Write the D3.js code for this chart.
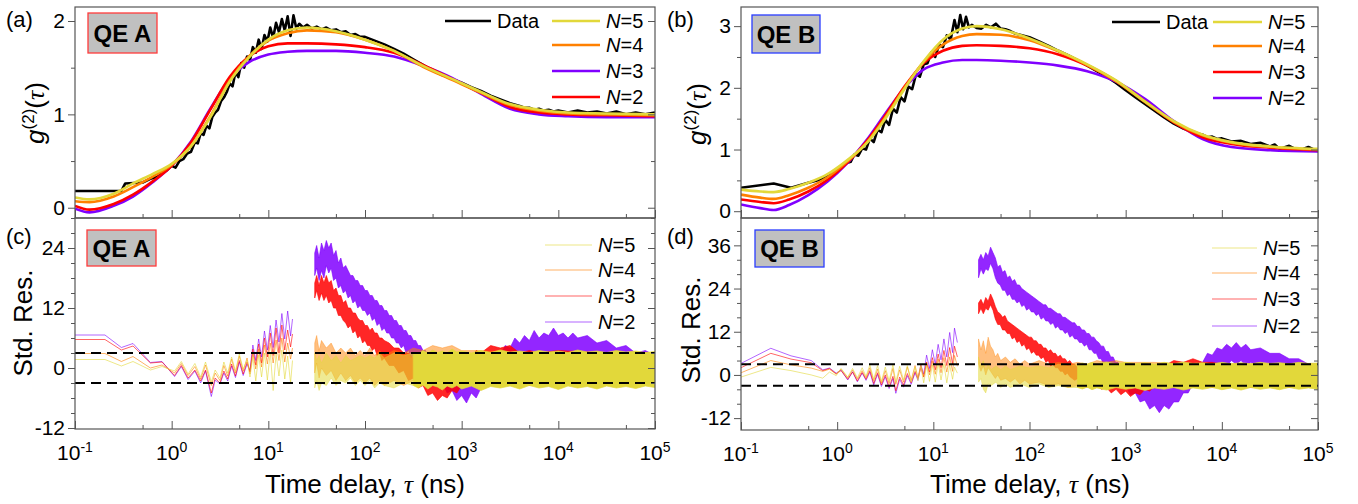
<!DOCTYPE html>
<html lang="en">
<head>
<meta charset="utf-8"/>
<script type="text/javascript" src="https://cdnjs.cloudflare.com/ajax/libs/d3/7.8.5/d3.min.js"></script>
<style>
  body { margin: 0; background: #fff; }
</style>
</head>
<body>
<svg id="chart" width="1358" height="504"></svg>
<script type="text/javascript">

// x values are stored as log10(tau / ns)
// tick labels
var xMajor = [0.1, 1, 10, 100, 1000, 10000, 100000];
var xExpLabels = ["-1", "0", "1", "2", "3", "4", "5"];
var xMinor = [0.5, 5, 50, 500, 5000, 50000];

// ---------- panel (a): g2 of QE A ----------
var uFitA = [-1, -0.85, -0.6, -0.4, -0.2, 0, 0.2, 0.4, 0.6, 0.8, 1.0, 1.2, 1.4, 1.7, 2.0, 2.3, 2.6, 2.9, 3.2, 3.5, 3.8, 4.1, 4.5, 5];
var fitA_N5 = [0.11,0.09,0.15,0.26,0.36,0.47,0.66,0.97,1.35,1.61,1.80,1.90,1.93,1.89,1.80,1.68,1.52,1.38,1.24,1.11,1.05,1.02,1.01,1.00];
var fitA_N4 = [0.07,0.06,0.12,0.22,0.33,0.46,0.66,0.98,1.36,1.62,1.79,1.87,1.90,1.88,1.80,1.68,1.51,1.37,1.23,1.10,1.04,1.01,1.00,0.99];
var fitA_red = [0.02,-0.02,0.04,0.14,0.28,0.45,0.70,1.05,1.40,1.62,1.73,1.76,1.76,1.75,1.72,1.66,1.53,1.38,1.23,1.08,1.02,1.00,0.99,0.98];
var fitA_purple = [-0.01,-0.05,0.02,0.12,0.27,0.45,0.71,1.06,1.38,1.56,1.64,1.67,1.68,1.68,1.66,1.62,1.52,1.39,1.22,1.06,1.00,0.98,0.97,0.97];
var dataA = [[-1,0.18],[-0.52,0.18],[-0.48,0.26],[-0.3,0.27],[-0.22,0.31],[-0.15,0.33],[-0.1,0.37],[-0.05,0.40],[0,0.45],[0.04,0.43],[0.08,0.50],[0.12,0.52],[0.16,0.58],[0.2,0.60],[0.24,0.70],[0.27,0.69],[0.3,0.80],[0.33,0.78],[0.36,0.88],[0.39,0.85],[0.42,0.97],[0.45,1.02],[0.48,1.05],[0.51,1.14],[0.54,1.18],[0.57,1.24],[0.6,1.33],[0.63,1.30],[0.66,1.45],[0.69,1.40],[0.72,1.55],[0.75,1.50],[0.78,1.62],[0.81,1.58],[0.84,1.72],[0.87,1.66],[0.9,1.80],[0.93,1.70],[0.96,1.85],[0.99,1.78],[1.02,1.93],[1.05,1.82],[1.08,1.98],[1.11,1.88],[1.14,2.02],[1.17,1.90],[1.2,2.05],[1.23,1.84],[1.26,2.06],[1.29,1.92],[1.32,1.97],[1.36,1.93],[1.4,1.96],[1.45,1.92],[1.5,1.94],[1.55,1.91],[1.6,1.93],[1.65,1.90],[1.7,1.91],[1.75,1.88],[1.8,1.89],[1.85,1.85],[1.9,1.86],[1.95,1.83],[2.0,1.83],[2.1,1.79],[2.2,1.75],[2.3,1.70],[2.4,1.65],[2.5,1.59],[2.6,1.53],[2.7,1.47],[2.8,1.42],[2.9,1.38],[3.0,1.34],[3.1,1.29],[3.2,1.25],[3.3,1.20],[3.4,1.16],[3.5,1.12],[3.6,1.09],[3.65,1.07],[3.7,1.07],[3.75,1.05],[3.8,1.06],[3.85,1.04],[3.9,1.05],[3.95,1.03],[4.0,1.04],[4.1,1.02],[4.2,1.04],[4.3,1.02],[4.4,1.03],[4.5,1.01],[4.6,1.03],[4.7,1.00],[4.8,1.02],[4.9,1.00],[5.0,1.02]];

// ---------- panel (b): g2 of QE B ----------
var uFitB = [-1, -0.8, -0.66, -0.5, -0.3, -0.1, 0.1, 0.3, 0.5, 0.7, 0.9, 1.1, 1.3, 1.45, 1.7, 2.0, 2.3, 2.6, 2.9, 3.2, 3.5, 3.8, 4.1, 4.5, 5];
var fitB_N5 = [0.35,0.32,0.31,0.36,0.46,0.60,0.82,1.09,1.50,1.98,2.43,2.78,2.96,3.00,2.95,2.80,2.60,2.38,2.12,1.78,1.46,1.24,1.12,1.05,1.01];
var fitB_N4 = [0.27,0.22,0.20,0.26,0.38,0.55,0.80,1.10,1.52,2.00,2.42,2.70,2.84,2.87,2.86,2.77,2.59,2.37,2.11,1.77,1.45,1.23,1.11,1.04,1.00];
var fitB_N3 = [0.19,0.15,0.13,0.19,0.32,0.51,0.78,1.12,1.55,2.02,2.40,2.60,2.68,2.69,2.68,2.64,2.54,2.36,2.11,1.78,1.44,1.20,1.09,1.03,0.99];
var fitB_N2 = [0.11,0.05,0.02,0.10,0.26,0.48,0.77,1.14,1.58,2.00,2.30,2.41,2.45,2.45,2.44,2.41,2.36,2.27,2.10,1.82,1.46,1.17,1.04,0.99,0.97];
var dataB = [[-1,0.38],[-0.66,0.45],[-0.48,0.38],[-0.3,0.46],[-0.2,0.50],[-0.1,0.58],[0,0.66],[0.05,0.72],[0.1,0.78],[0.14,0.80],[0.18,0.92],[0.22,0.90],[0.26,1.02],[0.3,1.00],[0.34,1.18],[0.38,1.12],[0.42,1.32],[0.46,1.28],[0.5,1.48],[0.54,1.40],[0.58,1.66],[0.62,1.60],[0.66,1.85],[0.7,1.78],[0.74,2.02],[0.78,1.98],[0.82,2.22],[0.86,2.18],[0.9,2.38],[0.94,2.40],[0.98,2.58],[1.02,2.50],[1.06,2.70],[1.1,2.66],[1.14,2.85],[1.18,2.78],[1.22,3.10],[1.25,2.90],[1.28,3.18],[1.31,2.95],[1.34,3.15],[1.37,2.98],[1.4,3.02],[1.45,2.97],[1.5,2.96],[1.55,3.02],[1.6,2.98],[1.65,3.04],[1.7,2.96],[1.75,2.95],[1.8,2.92],[1.85,2.88],[1.9,2.86],[2.0,2.82],[2.1,2.75],[2.2,2.68],[2.3,2.60],[2.4,2.53],[2.5,2.45],[2.6,2.36],[2.7,2.27],[2.8,2.18],[2.9,2.08],[3.0,1.96],[3.1,1.85],[3.2,1.74],[3.3,1.63],[3.4,1.52],[3.5,1.42],[3.6,1.34],[3.7,1.28],[3.8,1.24],[3.85,1.20],[3.9,1.21],[3.95,1.17],[4.0,1.18],[4.1,1.13],[4.2,1.14],[4.3,1.09],[4.4,1.11],[4.5,1.05],[4.55,1.08],[4.6,1.01],[4.7,1.06],[4.8,0.98],[4.9,1.04],[5.0,0.97]];

// ---------- panel (c): standardized residuals, QE A ----------
// sparse part = [u, value]; dense part = [u, low, high]
var resC_N2_line = [[-1,6.6],[-0.69,6.6],[-0.52,4.1],[-0.4,4.9],[-0.22,1.1],[-0.1,1.3],[0.03,-1.7],[0.1,0.3],[0.17,-2.3],[0.24,-0.6],[0.3,-3.0],[0.35,-0.6],[0.41,-5.7],[0.45,-2.4],[0.5,-3.2],[0.54,-1.0],[0.58,-2.6],[0.62,0.4],[0.66,-1.9],[0.7,1.2],[0.74,-1.5],[0.78,0.8],[0.81,-0.5],[0.84,4.6],[0.87,1.5],[0.9,5.8],[0.93,2.2],[0.96,7.4],[0.99,3.6],[1.02,8.5],[1.05,4.1],[1.08,9.6],[1.11,5.2],[1.14,10.9],[1.17,5.8],[1.2,11.4],[1.23,6.4],[1.25,9.8]];
var resC_N3_line = [[-1,5.7],[-0.69,5.7],[-0.52,3.6],[-0.4,4.4],[-0.22,1.0],[-0.1,1.2],[0.03,-1.5],[0.1,0.5],[0.17,-2.0],[0.24,-0.4],[0.3,-2.6],[0.35,-0.4],[0.41,-5.0],[0.45,-2.0],[0.5,-3.0],[0.54,-0.6],[0.58,-2.2],[0.62,0.8],[0.66,-1.6],[0.7,1.5],[0.74,-1.2],[0.78,1.2],[0.81,-0.8],[0.84,3.8],[0.87,0.6],[0.9,4.8],[0.93,1.0],[0.96,6.0],[0.99,2.2],[1.02,7.0],[1.05,2.5],[1.08,8.0],[1.11,3.0],[1.14,8.6],[1.17,3.6],[1.2,7.6],[1.23,4.2],[1.25,6.8]];
var resC_N4_line = [[-1,2.9],[-0.69,2.9],[-0.52,1.3],[-0.4,2.3],[-0.22,0.0],[-0.1,0.6],[0.03,-1.0],[0.1,0.9],[0.17,-1.5],[0.24,0.3],[0.3,-2.2],[0.35,0.6],[0.41,-3.5],[0.45,-1.0],[0.5,-2.5],[0.54,0.5],[0.58,-1.6],[0.62,1.8],[0.66,-1.0],[0.7,2.4],[0.74,-0.6],[0.78,2.0],[0.81,-1.2],[0.84,3.0],[0.87,-0.2],[0.9,3.8],[0.93,0.2],[0.96,4.6],[0.99,0.8],[1.02,5.0],[1.05,1.0],[1.08,5.6],[1.11,1.5],[1.14,6.0],[1.17,1.2],[1.2,5.0],[1.23,1.8],[1.25,4.0]];
var resC_N5_line = [[-1,1.7],[-0.69,1.7],[-0.52,0.4],[-0.4,1.3],[-0.22,-0.4],[-0.1,0.3],[0.03,-0.6],[0.1,1.3],[0.17,-1.2],[0.24,0.9],[0.3,-1.8],[0.35,1.2],[0.41,-2.8],[0.45,-0.4],[0.5,-2.0],[0.54,1.2],[0.58,-1.0],[0.62,2.2],[0.66,-0.6],[0.7,2.8],[0.74,-0.2],[0.78,1.6],[0.81,-1.8],[0.84,2.2],[0.87,-2.6],[0.9,2.6],[0.93,-1.8],[0.96,3.0],[0.99,-2.4],[1.02,3.2],[1.05,-4.5],[1.08,2.8],[1.11,-1.6],[1.14,3.6],[1.17,-2.2],[1.2,2.4],[1.23,-3.0],[1.25,1.5]];
var resC_N2_band = [[1.48,18.5,23],[1.5,20,24.5],[1.525,17.5,22],[1.55,19.5,25],[1.575,18,23.5],[1.6,20.5,25.5],[1.625,19,24],[1.65,20,25],[1.675,17.5,22.5],[1.7,18,23.5],[1.725,16,21],[1.75,16.5,22],[1.775,15,20],[1.8,15.5,20.5],[1.825,14,19.5],[1.85,14.5,18.5],[1.875,13,18.5],[1.9,13.5,17.5],[1.925,12,17.5],[1.95,12.5,16.5],[1.975,11.5,16.5],[2.0,11.5,15.5],[2.025,10.5,15.5],[2.05,11,14.5],[2.075,9.5,14.5],[2.1,10,13.5],[2.125,8.5,13.5],[2.15,9,12.5],[2.175,7.5,12.5],[2.2,8,11.5],[2.225,7,11.5],[2.25,7,10.5],[2.275,6,10.5],[2.3,6,9.5],[2.325,5,9.5],[2.35,5,8.5],[2.375,4,8.5],[2.4,4.5,7.5],[2.425,3,7.5],[2.45,3.5,6.5],[2.475,2,6.5],[2.5,2.5,5.5],[2.525,1,5.5],[2.55,1.5,4.5],[2.575,0,4.5],[2.6,0.5,3.5],[2.625,-1,3.5],[2.65,-0.5,2.5],[2.675,-2,2.5],[2.7,-1.5,1.5],[2.75,-3.5,1],[2.8,-3,0],[2.85,-5,0],[2.9,-4.5,-1],[2.95,-6.5,-0.5],[3.0,-5.5,-1.5],[3.05,-7,-1],[3.1,-5,-1.5],[3.15,-6,-0.5],[3.2,-4,-0.5],[3.25,-4,1],[3.3,-2,1.5],[3.35,-2.5,3],[3.4,-0.5,2.5],[3.45,-0.5,4.5],[3.5,1,4],[3.55,0.5,6],[3.6,2,5],[3.65,1.5,6.5],[3.7,2.5,5.5],[3.75,2,7.5],[3.8,3,6],[3.85,1.5,7],[3.9,3,6.5],[3.95,2,8],[4.0,3,6.5],[4.05,1.5,7],[4.1,2.5,6],[4.15,1.5,7],[4.2,2.5,6],[4.3,1.5,6.5],[4.4,1.5,5],[4.5,0,5.5],[4.6,0.5,4],[4.7,-1,4.5],[4.8,-0.5,3],[4.9,-1.5,3.5],[5.0,-1.5,2.5]];
var resC_N3_band = [[1.48,14,17],[1.5,15.5,18.5],[1.525,13.5,16.5],[1.55,15,18.5],[1.575,13.5,17],[1.6,14.5,18.5],[1.625,13,17],[1.65,13.5,17.5],[1.675,12,15.5],[1.7,12,16],[1.725,10.5,14.5],[1.75,10.5,14.5],[1.775,9.5,13],[1.8,9,13.5],[1.825,8,12],[1.85,8.5,12],[1.875,7,11],[1.9,7.5,11],[1.925,6,10],[1.95,6.5,9.5],[1.975,5,9.5],[2.0,5.5,8.5],[2.025,4.5,8.5],[2.05,4.5,7.5],[2.075,3.5,8],[2.1,4,7],[2.125,2.5,7],[2.15,3,6],[2.175,1.5,6],[2.2,2,5.5],[2.25,0.5,5],[2.3,0.5,4],[2.35,-1,4],[2.4,-0.5,3],[2.45,-2.5,3],[2.5,-2,2],[2.55,-4,2],[2.6,-3.5,0.5],[2.65,-5.5,0.5],[2.7,-5,-0.5],[2.75,-6.5,0],[2.8,-5.5,-0.5],[2.85,-6,0.5],[2.9,-4.5,0],[2.95,-5,1.5],[3.0,-3.5,1],[3.05,-3.5,2.5],[3.1,-2.5,2],[3.15,-2.5,3.5],[3.2,-1.5,3],[3.3,-2,4.5],[3.4,-1.5,4],[3.5,-2.5,4.5],[3.6,-2.5,3],[3.7,-3.5,3.5],[3.8,-3,3],[4.0,-3.5,3.5],[4.5,-3.5,3],[5.0,-3.5,3]];
var resC_N4_band = [[1.48,-1,5],[1.5,1,6.5],[1.525,-2,3.5],[1.55,0,5.5],[1.6,-1.5,4],[1.65,-0.5,5],[1.7,-2.5,3],[1.75,-1,4],[1.8,-2.5,3],[1.85,-1.5,4],[1.9,-3,2.5],[1.95,-2,3.5],[2.0,-3,2.5],[2.05,-2,4],[2.1,-3.5,2.5],[2.15,-2.5,3.5],[2.2,-3.5,2.5],[2.3,-2.5,3.5],[2.4,-3.5,3],[2.5,-2.5,4],[2.6,-3.5,3.5],[2.7,-2.5,4.5],[2.8,-3,4],[2.9,-2,4.5],[3.0,-3,3.5],[3.2,-3,3.5],[3.5,-3.5,3],[4.0,-3.5,3],[5.0,-3.5,3]];
var resC_N5_arm = [[1.48,-4,3],[1.5,-2.5,1.5],[1.525,-4.5,2.5],[1.55,-3,1],[1.6,-3.5,3],[1.65,-2,1.5],[1.7,-3.5,2.5],[1.75,-2.5,1],[1.8,-3,2.5],[1.85,-2,1.5],[1.9,-3.5,2],[1.95,-2.5,2.5],[2.0,-3.5,2],[2.05,-2.5,2.5],[2.1,-4,2],[2.15,-3,3],[2.2,-3.5,2],[2.3,-4,3],[2.4,-3,2.5],[2.5,-3.5,3]];
var resC_N5_band = [[2.5,-3.5,3],[2.55,-4,2.8],[2.6,-3.4,3.5],[2.65,-4.2,3],[2.7,-3.5,3.6],[2.75,-3.8,3.1],[2.8,-4.4,3.4],[2.85,-3.6,3],[2.9,-4,3.8],[2.95,-3.5,3.2],[3.0,-4.2,3.4],[3.1,-3.6,3],[3.2,-4.5,3.5],[3.3,-3.7,3.1],[3.4,-4,3.6],[3.5,-3.6,3.2],[3.6,-4.2,3.4],[3.7,-3.5,3.1],[3.8,-4,3.5],[3.9,-3.7,3.2],[4.0,-4.3,3.4],[4.1,-3.6,3.1],[4.2,-4,3.6],[4.3,-3.7,3.2],[4.4,-4.2,3.4],[4.5,-3.6,3.1],[4.6,-4,3.5],[4.7,-3.7,3.2],[4.8,-4.1,3.4],[4.9,-3.6,3.1],[5.0,-3.9,3.3]];

// ---------- panel (d): standardized residuals, QE B ----------
var resD_N2_line = [[-1,3.2],[-0.69,7.4],[-0.48,5.3],[-0.27,4.0],[-0.15,1.4],[-0.08,1.9],[-0.01,0.5],[0.04,1.4],[0.11,-1.4],[0.16,0.9],[0.21,-1.9],[0.26,0.5],[0.3,-1.5],[0.34,0.8],[0.38,-2.8],[0.42,0.2],[0.46,-3.2],[0.5,-0.5],[0.54,-3.8],[0.58,-1.0],[0.61,-5.1],[0.65,-1.2],[0.69,-3.4],[0.73,-0.2],[0.77,-2.6],[0.81,0.6],[0.84,-1.5],[0.87,2.8],[0.9,0.2],[0.93,5.5],[0.96,1.8],[0.99,7.0],[1.02,3.0],[1.05,8.5],[1.08,4.2],[1.11,10.0],[1.14,5.0],[1.17,11.8],[1.2,6.2],[1.22,13.0],[1.25,9.0]];
var resD_N3_line = [[-1,2.0],[-0.69,6.0],[-0.48,4.4],[-0.27,3.4],[-0.15,1.2],[-0.08,1.8],[-0.01,0.3],[0.04,1.2],[0.11,-1.2],[0.16,0.8],[0.21,-1.7],[0.26,0.7],[0.3,-1.2],[0.34,1.2],[0.38,-2.4],[0.42,0.6],[0.46,-2.8],[0.5,0.0],[0.54,-3.4],[0.58,-0.4],[0.61,-4.4],[0.65,-0.6],[0.69,-2.8],[0.73,0.4],[0.77,-2.2],[0.81,1.0],[0.84,-1.0],[0.87,2.0],[0.9,-0.6],[0.93,3.6],[0.96,0.8],[0.99,4.8],[1.02,1.4],[1.05,5.8],[1.08,2.0],[1.11,6.8],[1.14,2.6],[1.17,7.6],[1.2,3.0],[1.22,8.0],[1.25,5.0]];
var resD_N4_line = [[-1,0.6],[-0.69,4.0],[-0.48,2.8],[-0.27,1.9],[-0.15,1.0],[-0.08,1.6],[-0.01,0.2],[0.04,1.6],[0.11,-0.8],[0.16,1.4],[0.21,-1.2],[0.26,1.2],[0.3,-0.8],[0.34,2.0],[0.38,-1.6],[0.42,1.6],[0.46,-2.2],[0.5,1.2],[0.54,-2.4],[0.58,1.8],[0.61,-2.6],[0.65,1.4],[0.69,-2.0],[0.73,2.2],[0.77,-1.4],[0.81,2.6],[0.84,-0.8],[0.87,2.8],[0.9,-0.4],[0.93,3.4],[0.96,0.0],[0.99,3.8],[1.02,0.2],[1.05,4.4],[1.08,0.6],[1.11,4.8],[1.14,0.8],[1.17,5.0],[1.2,1.0],[1.22,5.4],[1.25,2.4]];
var resD_N5_line = [[-1,-0.6],[-0.69,2.1],[-0.48,1.2],[-0.27,0.0],[-0.15,-0.9],[-0.08,0.8],[-0.01,-0.2],[0.04,1.8],[0.11,-0.6],[0.16,1.8],[0.21,-0.8],[0.26,2.0],[0.3,-0.4],[0.34,2.8],[0.38,-1.2],[0.42,2.6],[0.46,-1.8],[0.5,2.2],[0.54,-1.6],[0.58,2.8],[0.61,-2.0],[0.65,2.4],[0.69,-1.4],[0.73,2.6],[0.77,-2.0],[0.81,2.2],[0.84,-1.6],[0.87,2.4],[0.9,-2.2],[0.93,2.6],[0.96,-1.8],[0.99,2.8],[1.02,-2.0],[1.05,3.2],[1.08,-1.4],[1.11,3.0],[1.14,-2.2],[1.17,2.8],[1.2,-1.2],[1.22,2.2],[1.25,0.5]];
var resD_N2_band = [[1.47,27,32],[1.495,29.5,33.5],[1.52,28,32],[1.545,29.5,34],[1.57,29,33],[1.595,31,35.5],[1.62,29.5,34],[1.645,27,32.5],[1.67,25.5,30],[1.695,25,30.5],[1.72,23.5,28.5],[1.745,23.5,29],[1.77,22,27],[1.795,22.5,27.5],[1.82,21,26],[1.845,21,26.5],[1.87,20,25],[1.895,20.5,25],[1.92,19,24],[1.945,19.5,23.5],[1.97,18,23],[1.995,18.5,22.5],[2.02,17.5,22],[2.045,17.5,21.5],[2.07,16.5,21],[2.095,17,20.5],[2.12,15.5,20],[2.145,16,19.5],[2.17,15,19.5],[2.195,15,18.5],[2.22,14,18.5],[2.245,14.5,18],[2.27,13,17.5],[2.295,13.5,17],[2.32,12.5,17],[2.345,12.5,16],[2.37,11.5,16],[2.395,12,15.5],[2.42,10.5,15],[2.445,11,14.5],[2.47,10,14.5],[2.495,10,13.5],[2.52,9,13.5],[2.545,9,12.5],[2.57,8,12.5],[2.595,8.5,11.5],[2.62,7,11.5],[2.645,7,10.5],[2.67,6,10.5],[2.695,6,9.5],[2.72,4.5,9],[2.745,4.5,8],[2.77,3,8],[2.795,3,6.5],[2.82,1.5,6.5],[2.845,1.5,5],[2.87,0,5],[2.895,0,3.5],[2.92,-1.5,3.5],[2.945,-1.5,2],[2.97,-3,2],[3.0,-3,0.5],[3.05,-5.5,0],[3.1,-5,-1],[3.15,-7.5,-1],[3.2,-7,-2.5],[3.25,-9.5,-2],[3.3,-8.5,-3.5],[3.35,-10.5,-3],[3.4,-8.5,-3.5],[3.45,-9.5,-2.5],[3.5,-7.5,-2.5],[3.55,-7.5,-1],[3.6,-5,-1],[3.65,-5,1],[3.7,-2.5,1],[3.75,-2,3.5],[3.8,0.5,3.5],[3.85,0.5,6],[3.9,2.5,5.5],[3.95,2,7.5],[4.0,3.5,7],[4.05,2.5,8.5],[4.1,4,7.5],[4.15,3,9],[4.2,4,7.5],[4.25,2.5,8.5],[4.3,3.5,7],[4.4,2,7.5],[4.5,2.5,6],[4.6,1,6],[4.7,1,4.5],[4.8,-0.5,4.5],[4.9,0,3],[5.0,-1,3]];
var resD_N3_band = [[1.47,17,20],[1.495,18.5,21],[1.52,17,19.5],[1.545,18.5,21.5],[1.57,18,20.5],[1.595,19.5,22.5],[1.62,18,21],[1.645,15.5,19],[1.67,14,17.5],[1.695,14,17],[1.72,12.5,16],[1.745,12.5,16.5],[1.77,11.5,15],[1.795,11.5,14.5],[1.82,10,14],[1.845,10.5,13.5],[1.87,9,13],[1.895,9.5,12.5],[1.92,8,12],[1.945,8.5,11.5],[1.97,7,11],[1.995,7.5,10.5],[2.02,6,10.5],[2.045,6.5,9.5],[2.07,5.5,9.5],[2.095,5.5,8.5],[2.12,4.5,8.5],[2.145,5,7.5],[2.17,3.5,7.5],[2.195,4,6.5],[2.22,2.5,7],[2.245,3,6],[2.27,2,6],[2.295,2,5],[2.32,1,5.5],[2.345,1,4.5],[2.37,0,4.5],[2.395,0.5,3.5],[2.42,-0.5,4],[2.445,-1,3],[2.47,-1.5,3],[2.5,-1,2],[2.55,-2.5,2.5],[2.6,-2,1.5],[2.65,-3.5,2],[2.7,-3,1],[2.75,-4,1.5],[2.8,-3.5,0.5],[2.85,-5,1],[2.9,-4,0],[2.95,-5.5,0.5],[3.0,-4.5,-0.5],[3.05,-6,0.5],[3.1,-5,0],[3.15,-5.5,1],[3.2,-4,0.5],[3.25,-4.5,2],[3.3,-3,1.5],[3.35,-3,3],[3.4,-2,2.5],[3.5,-2.5,4],[3.6,-1.5,3.5],[3.7,-2.5,4.5],[3.8,-3,3.5],[3.9,-3.5,3.5],[4.0,-3.5,3],[4.5,-3.5,3],[5.0,-3.5,3]];
var resD_N4_band = [[1.47,3,10],[1.495,1,7],[1.52,2.5,9.5],[1.545,0,6],[1.57,2,10.5],[1.595,1,8],[1.62,0,7],[1.645,-1,5],[1.67,0,6],[1.7,-1.5,4],[1.75,-1,5],[1.8,-2,3.5],[1.85,-1,4.5],[1.9,-2.5,3],[1.95,-1.5,4],[2.0,-2.5,3],[2.1,-2,4],[2.2,-3,3],[2.3,-2.5,3.5],[2.4,-3.5,3],[2.5,-3,3.5],[2.6,-3.5,3],[2.7,-3,4],[2.8,-3.5,3.5],[2.9,-3,4],[3.0,-3.5,3.5],[3.3,-3.5,3.5],[3.6,-3.5,3],[4.0,-3.5,3],[5.0,-3.5,3]];
var resD_N5_arm = [[1.47,-2,5],[1.495,-1,2.5],[1.52,-4,4],[1.545,-5,1.5],[1.57,-2.5,3],[1.6,-3,1.5],[1.65,-2,2.5],[1.7,-3.5,1.5],[1.75,-2.5,2.5],[1.8,-3.5,1.5],[1.9,-2.5,2.5],[2.0,-3.5,2],[2.1,-2.5,2.5],[2.2,-3.5,2],[2.3,-3,3],[2.4,-3.5,2.5],[2.5,-3.5,3]];
var resD_N5_band = [[2.5,-3.5,3],[2.55,-3.9,3.3],[2.6,-3.4,3.0],[2.65,-4.1,3.5],[2.7,-3.6,3.1],[2.8,-4.2,3.6],[2.9,-3.5,3.1],[3.0,-4,3.5],[3.1,-3.6,3.1],[3.2,-4.3,3.4],[3.3,-3.6,3.0],[3.4,-4,3.5],[3.5,-3.5,3.1],[3.6,-4.2,3.6],[3.7,-3.6,3.2],[3.8,-4,3.4],[3.9,-3.5,3.1],[4.0,-4.1,3.5],[4.1,-3.6,3.1],[4.2,-4.2,3.4],[4.3,-3.5,3.1],[4.4,-4,3.5],[4.5,-3.6,3.2],[4.6,-4.1,3.4],[4.7,-3.5,3.1],[4.8,-4,3.5],[4.9,-3.6,3.2],[5.0,-4,3.3]];

// +/- 3 guide lines in the residual panels
var resLimits = [-3, 3];

// ---------- drawing ----------
var FONT = "'Liberation Sans', Arial, sans-serif";
var col = { data: "#000000", N2: "#8000ff", N3: "#ff0000", N4: "#ff8000", N5: "#e2d83a" };

var svg = d3.select("#chart");
var defs = svg.append("defs");

function tau(u) { return Math.pow(10, u); }

var xL = d3.scaleLog().domain([0.1, 1e5]).range([75, 655]);
var xR = d3.scaleLog().domain([0.1, 1e5]).range([741, 1318]);

function makePanel(id, x, top, bottom, dom, yMajor, yMinor, xLabels) {
  var p = { id: id, x: x, top: top, bottom: bottom, yMajor: yMajor, yMinor: yMinor, xLabels: xLabels };
  p.x0 = x.range()[0];
  p.x1 = x.range()[1];
  p.y = d3.scaleLinear().domain(dom).range([bottom, top]);
  p.g = svg.append("g").attr("class", "panel-" + id);
  defs.append("clipPath").attr("id", "clip-" + id)
    .append("rect").attr("x", p.x0).attr("y", top).attr("width", p.x1 - p.x0).attr("height", bottom - top);
  p.plot = p.g.append("g").attr("clip-path", "url(#clip-" + id + ")");
  return p;
}

function styleAxis(sel) {
  sel.select(".domain").remove();
  sel.selectAll("line").attr("stroke", "#555").attr("stroke-width", 1);
  sel.attr("font-family", FONT).attr("font-size", 21);
  sel.selectAll("text").attr("fill", "#000");
}

function drawAxes(p) {
  var g = p.g;
  g.append("g").attr("transform", "translate(" + p.x0 + ",0)")
    .call(d3.axisLeft(p.y).tickValues(p.yMajor).tickSize(7).tickPadding(3).tickFormat(function(d) { return String(d); }))
    .call(styleAxis);
  g.append("g").attr("transform", "translate(" + p.x0 + ",0)")
    .call(d3.axisLeft(p.y).tickValues(p.yMinor).tickSize(4).tickFormat(""))
    .call(styleAxis);
  // mirror ticks on the right side, pointing in
  g.append("g").attr("transform", "translate(" + p.x1 + ",0)")
    .call(d3.axisLeft(p.y).tickValues(p.yMajor).tickSize(7).tickFormat(""))
    .call(styleAxis);
  g.append("g").attr("transform", "translate(" + p.x1 + ",0)")
    .call(d3.axisLeft(p.y).tickValues(p.yMinor).tickSize(4).tickFormat(""))
    .call(styleAxis);
  // bottom ticks pointing in
  g.append("g").attr("transform", "translate(0," + p.bottom + ")")
    .call(d3.axisTop(p.x).tickValues(xMajor).tickSize(8).tickFormat(""))
    .call(styleAxis);
  g.append("g").attr("transform", "translate(0," + p.bottom + ")")
    .call(d3.axisTop(p.x).tickValues(xMinor).tickSize(4).tickFormat(""))
    .call(styleAxis);
  g.append("rect")
    .attr("x", p.x0).attr("y", p.top)
    .attr("width", p.x1 - p.x0).attr("height", p.bottom - p.top)
    .attr("fill", "none").attr("stroke", "#555").attr("stroke-width", 1.2);

  if (p.xLabels) {
    var lab = g.append("g").attr("font-family", FONT).attr("font-size", 21);
    xMajor.forEach(function(v, i) {
      var t = lab.append("text").attr("x", p.x(v)).attr("y", p.bottom + 31).attr("text-anchor", "middle");
      t.append("tspan").text("10");
      t.append("tspan").attr("font-size", 14).attr("dy", -8).text(xExpLabels[i]);
    });
  }
}

function drawFits(p, u, fits, data) {
  var dataLine = d3.line().x(function(d) { return p.x(tau(d[0])); }).y(function(d) { return p.y(d[1]); });
  var fitLine = d3.line()
    .x(function(d, i) { return p.x(tau(u[i])); })
    .y(function(d) { return p.y(d); })
    .curve(d3.curveMonotoneX);
  p.plot.append("path").datum(data).attr("d", dataLine)
    .attr("fill", "none").attr("stroke", col.data).attr("stroke-width", 2.6).attr("stroke-linejoin", "round");
  fits.forEach(function(f) {
    p.plot.append("path").datum(f.values).attr("d", fitLine)
      .attr("fill", "none").attr("stroke", f.color).attr("stroke-width", 2.6);
  });
}

function drawResiduals(p, series) {
  var line = d3.line().x(function(d) { return p.x(tau(d[0])); }).y(function(d) { return p.y(d[1]); });
  var area = d3.area().x(function(d) { return p.x(tau(d[0])); })
    .y0(function(d) { return p.y(d[1]); }).y1(function(d) { return p.y(d[2]); });
  series.forEach(function(s) {
    p.plot.append("path").datum(s.line).attr("d", line)
      .attr("fill", "none").attr("stroke", s.color).attr("stroke-width", 1).attr("stroke-opacity", 0.6);
    s.bands.forEach(function(b) {
      p.plot.append("path").datum(b.values).attr("d", area)
        .attr("fill", s.color).attr("fill-opacity", b.op)
        .attr("stroke", s.color).attr("stroke-opacity", b.op * 0.7).attr("stroke-width", 1)
        .attr("stroke-linejoin", "miter");
    });
  });
  resLimits.forEach(function(v) {
    p.plot.append("line")
      .attr("x1", p.x0).attr("x2", p.x1)
      .attr("y1", p.y(v)).attr("y2", p.y(v))
      .attr("stroke", "#000").attr("stroke-width", 2).attr("stroke-dasharray", "10,6");
  });
}

function drawLegend(p, rows, lineW, lineOp) {
  var g = p.g.append("g").attr("font-family", FONT).attr("font-size", 20);
  rows.forEach(function(r) {
    g.append("line").attr("x1", r.x1).attr("x2", r.x2).attr("y1", r.y).attr("y2", r.y)
      .attr("stroke", r.color).attr("stroke-width", lineW).attr("stroke-opacity", lineOp);
    var t = g.append("text").attr("x", r.x2 + 6).attr("y", r.y).attr("dy", "0.36em");
    if (r.n) {
      t.append("tspan").attr("font-style", "italic").text("N");
      t.append("tspan").text("=" + r.n);
    } else {
      t.text(r.label);
    }
  });
}

function qeBox(x, y, w, h, label, stroke) {
  svg.append("rect").attr("x", x).attr("y", y).attr("width", w).attr("height", h)
    .attr("fill", "#c0c0c0").attr("stroke", stroke).attr("stroke-width", 1.3);
  svg.append("text").attr("x", x + w / 2).attr("y", y + h / 2).attr("dy", "0.36em")
    .attr("text-anchor", "middle").attr("font-family", FONT).attr("font-weight", "bold")
    .attr("font-size", 24).text(label);
}

function panelLetter(x, y, s) {
  svg.append("text").attr("x", x).attr("y", y).attr("font-family", FONT).attr("font-size", 22).text(s);
}

function g2Title(x, y) {
  var t = svg.append("text").attr("transform", "translate(" + x + "," + y + ") rotate(-90)")
    .attr("text-anchor", "middle").attr("font-family", FONT).attr("font-size", 26);
  t.append("tspan").attr("font-style", "italic").text("g");
  t.append("tspan").attr("font-size", 17).attr("dy", -10).text("(2)");
  t.append("tspan").attr("dy", 10).text("(");
  t.append("tspan").attr("font-family", "'Liberation Serif', serif").attr("font-style", "italic").text("τ");
  t.append("tspan").text(")");
}

function resTitle(x, y) {
  svg.append("text").attr("transform", "translate(" + x + "," + y + ") rotate(-90)")
    .attr("text-anchor", "middle").attr("font-family", FONT).attr("font-size", 26).text("Std. Res.");
}

function xTitle(x, y) {
  var t = svg.append("text").attr("x", x).attr("y", y).attr("text-anchor", "middle")
    .attr("font-family", FONT).attr("font-size", 26);
  t.append("tspan").text("Time delay,  ");
  t.append("tspan").attr("font-family", "'Liberation Serif', serif").attr("font-style", "italic").text("τ");
  t.append("tspan").text(" (ns)");
}

// panels
var pA = makePanel("a", xL, 7, 218, [-0.11, 2.15], [0, 1, 2], [0.5, 1.5], false);
var pB = makePanel("b", xR, 7, 218, [-0.11, 3.31], [0, 1, 2, 3], [0.5, 1.5, 2.5], false);
var pC = makePanel("c", xL, 218, 429, [-12.2, 30], [-12, 0, 12, 24],
  [-9, -6, -3, 3, 6, 9, 15, 18, 21, 27, 30], true);
var pD = makePanel("d", xR, 218, 430, [-15.3, 43.6], [-12, 0, 12, 24, 36],
  [-8, -4, 4, 8, 16, 20, 28, 32, 40], true);

drawFits(pA, uFitA, [
  { values: fitA_purple, color: col.N2 },
  { values: fitA_red, color: col.N3 },
  { values: fitA_N4, color: col.N4 },
  { values: fitA_N5, color: col.N5 }
], dataA);

drawFits(pB, uFitB, [
  { values: fitB_N2, color: col.N2 },
  { values: fitB_N3, color: col.N3 },
  { values: fitB_N4, color: col.N4 },
  { values: fitB_N5, color: col.N5 }
], dataB);

drawResiduals(pC, [
  { color: col.N2, line: resC_N2_line, bands: [{ values: resC_N2_band, op: 0.85 }] },
  { color: col.N3, line: resC_N3_line, bands: [{ values: resC_N3_band, op: 0.85 }] },
  { color: col.N4, line: resC_N4_line, bands: [{ values: resC_N4_band, op: 0.5 }] },
  { color: col.N5, line: resC_N5_line, bands: [{ values: resC_N5_arm, op: 0.55 }, { values: resC_N5_band, op: 1 }] }
]);

drawResiduals(pD, [
  { color: col.N2, line: resD_N2_line, bands: [{ values: resD_N2_band, op: 0.85 }] },
  { color: col.N3, line: resD_N3_line, bands: [{ values: resD_N3_band, op: 0.85 }] },
  { color: col.N4, line: resD_N4_line, bands: [{ values: resD_N4_band, op: 0.5 }] },
  { color: col.N5, line: resD_N5_line, bands: [{ values: resD_N5_arm, op: 0.55 }, { values: resD_N5_band, op: 1 }] }
]);

[pA, pB, pC, pD].forEach(drawAxes);

// legends (panel (a) lists N=3 in purple and N=2 in red, as in the figure)
drawLegend(pA, [
  { x1: 445, x2: 491, y: 21, color: col.data, label: "Data" },
  { x1: 552, x2: 600, y: 21, color: col.N5, n: 5 },
  { x1: 552, x2: 600, y: 45, color: col.N4, n: 4 },
  { x1: 552, x2: 600, y: 71, color: col.N2, n: 3 },
  { x1: 552, x2: 600, y: 97, color: col.N3, n: 2 }
], 2.6, 1);
drawLegend(pB, [
  { x1: 1112, x2: 1160, y: 22, color: col.data, label: "Data" },
  { x1: 1213, x2: 1262, y: 22, color: col.N5, n: 5 },
  { x1: 1213, x2: 1262, y: 46, color: col.N4, n: 4 },
  { x1: 1213, x2: 1262, y: 72, color: col.N3, n: 3 },
  { x1: 1213, x2: 1262, y: 98, color: col.N2, n: 2 }
], 2.6, 1);
drawLegend(pC, [
  { x1: 545, x2: 592, y: 245, color: col.N5, n: 5 },
  { x1: 545, x2: 592, y: 270, color: col.N4, n: 4 },
  { x1: 545, x2: 592, y: 296, color: col.N3, n: 3 },
  { x1: 545, x2: 592, y: 322, color: col.N2, n: 2 }
], 1.2, 0.6);
drawLegend(pD, [
  { x1: 1212, x2: 1257, y: 248, color: col.N5, n: 5 },
  { x1: 1212, x2: 1257, y: 273, color: col.N4, n: 4 },
  { x1: 1212, x2: 1257, y: 299, color: col.N3, n: 3 },
  { x1: 1212, x2: 1257, y: 326, color: col.N2, n: 2 }
], 1.2, 0.6);

qeBox(88, 13, 69, 40, "QE A", "#ff3b3b");
qeBox(752, 15, 68, 38, "QE B", "#2a3cff");
qeBox(87, 230, 69, 36, "QE A", "#ff3b3b");
qeBox(755, 230, 69, 37, "QE B", "#2a3cff");

panelLetter(6, 27, "(a)");
panelLetter(667, 27, "(b)");
panelLetter(6, 244, "(c)");
panelLetter(667, 244, "(d)");

g2Title(44, 113);
g2Title(706, 114);
resTitle(32, 323);
resTitle(700, 330);

xTitle(365, 493);
xTitle(1030, 493);

</script>
</body>
</html>
